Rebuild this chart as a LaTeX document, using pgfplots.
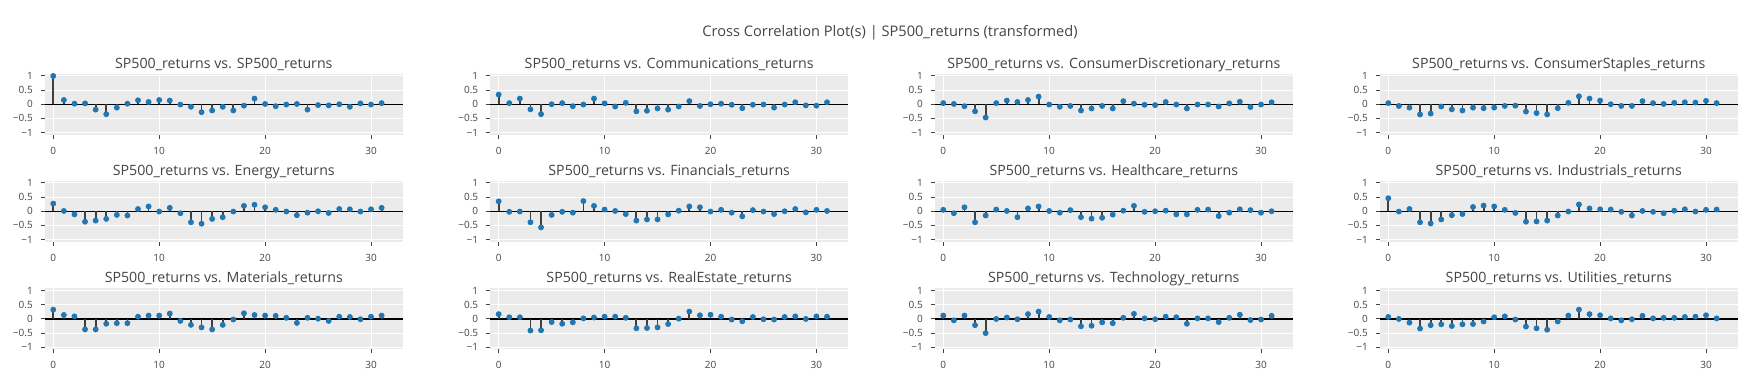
\documentclass[border=0pt]{standalone}
\usepackage{fontspec}
\setmainfont{Open Sans}
\usepackage{pgfplots}
\usepackage{pgfplotstable}
\pgfplotsset{compat=1.18}
\definecolor{bgc}{RGB}{235,235,235}
\definecolor{txtc}{RGB}{68,68,68}
\definecolor{mcol}{RGB}{31,119,180}
\definecolor{stemc}{RGB}{63,63,63}

\pgfplotstableread{
lag sp comm cd cs en fin hc ind mat re tech util
0 1 0.34 0.04 0.04 0.27 0.35 0.05 0.46 0.33 0.17 0.12 0.07
1 0.15 0.04 0.01 -0.06 0.01 -0.02 -0.07 -0.01 0.14 0.06 -0.05 0
2 0.02 0.2 -0.07 -0.12 -0.11 -0.01 0.14 0.08 0.09 0.06 0.12 -0.13
3 0.03 -0.18 -0.25 -0.36 -0.37 -0.39 -0.39 -0.39 -0.37 -0.41 -0.22 -0.34
4 -0.19 -0.35 -0.47 -0.33 -0.33 -0.57 -0.15 -0.43 -0.37 -0.4 -0.5 -0.22
5 -0.35 0 0.04 -0.08 -0.27 -0.13 0.06 -0.29 -0.17 -0.11 0 -0.19
6 -0.12 0.04 0.13 -0.18 -0.13 -0.02 0.01 -0.14 -0.15 -0.17 0.05 -0.25
7 0.02 -0.07 0.08 -0.22 -0.15 -0.05 -0.21 -0.1 -0.15 -0.12 -0.01 -0.19
8 0.14 -0.01 0.15 -0.12 0.08 0.36 0.1 0.15 0.08 0.02 0.17 -0.18
9 0.08 0.2 0.27 -0.14 0.17 0.19 0.17 0.2 0.12 0.05 0.26 -0.09
10 0.15 0.03 -0.01 -0.12 -0.01 0.06 0.01 0.17 0.12 0.08 0.07 0.06
11 0.13 -0.08 -0.09 -0.06 0.12 0.01 -0.05 0.05 0.19 0.08 -0.05 0.09
12 -0.01 0.05 -0.06 -0.05 -0.07 -0.1 0.04 -0.06 -0.07 0.04 -0.02 -0.02
13 -0.09 -0.25 -0.22 -0.26 -0.39 -0.33 -0.21 -0.37 -0.21 -0.33 -0.26 -0.27
14 -0.28 -0.23 -0.15 -0.31 -0.44 -0.29 -0.26 -0.36 -0.3 -0.32 -0.24 -0.33
15 -0.22 -0.15 -0.06 -0.36 -0.27 -0.29 -0.23 -0.33 -0.37 -0.3 -0.12 -0.38
16 -0.09 -0.19 -0.15 -0.14 -0.21 -0.11 -0.12 -0.15 -0.21 -0.18 -0.15 -0.09
17 -0.22 -0.08 0.11 0.05 -0.01 0.02 0.02 -0.01 -0.02 0.01 0.04 0.12
18 -0.05 0.11 0.02 0.28 0.19 0.17 0.19 0.24 0.2 0.26 0.18 0.33
19 0.2 -0.06 -0.02 0.2 0.23 0.14 -0.02 0.1 0.14 0.13 0.02 0.17
20 0.01 0 -0.03 0.13 0.14 -0.01 0 0.07 0.12 0.15 -0.01 0.13
21 -0.07 0.02 0.08 0 0.05 0.05 0.02 0.06 0.11 0.08 0.08 0.02
22 -0.01 -0.02 -0.01 -0.06 -0.01 -0.05 -0.11 -0.02 0.04 -0.02 0.06 -0.05
23 0.01 -0.14 -0.15 -0.06 -0.14 -0.18 -0.11 -0.15 -0.14 -0.08 -0.17 -0.01
24 -0.19 -0.02 -0.01 0.11 -0.05 0.04 0.05 0.01 0.04 0.07 0.02 0.11
25 -0.03 -0.01 -0.01 0.04 0 -0.01 0.06 -0.02 0.01 -0.01 0.02 0.02
26 -0.04 -0.12 -0.08 0.01 -0.06 -0.1 -0.17 -0.07 -0.07 -0.02 -0.11 0.04
27 0 -0.01 0.03 0.05 0.08 0 -0.05 0.02 0.08 0.07 0.04 0.04
28 -0.09 0.07 0.09 0.07 0.07 0.08 0.07 0.07 0.07 0.09 0.15 0.07
29 0.03 -0.04 -0.1 0.06 -0.01 -0.04 0.04 -0.01 -0.01 0 -0.04 0.08
30 -0.01 -0.05 -0.01 0.12 0.07 0.05 -0.05 0.05 0.08 0.09 -0.02 0.13
31 0.04 0.07 0.07 0.04 0.12 0.01 0 0.06 0.12 0.08 0.11 0.02
}\ccfdata

\pgfplotsset{
  ccf/.style={
    scale only axis, width=179pt, height=30.55pt,
    anchor=north west,
    xmin=-0.8, xmax=33, ymin=-1.08, ymax=1.08,
    xtick={0,10,20,30}, xticklabels={0,10,20,30},
    ytick={-1,-0.5,0,0.5,1}, yticklabels={−1,−0.5,0,0.5,1},
    xtick pos=bottom, ytick pos=left,
    axis background/.style={fill=bgc},
    grid=major, major grid style={white, line width=0.5pt},
    axis line style={draw=none},
    tick align=outside, major tick length=2pt,
    tick style={color=txtc, line width=0.5pt},
    ticklabel style={font=\fontsize{5}{6}\selectfont, text=txtc},
    xticklabel style={yshift=-0.5pt},
    yticklabel style={xshift=-0.5pt},
    every axis title/.style={font=\fontsize{7.1}{8}\selectfont, text=txtc, at={(0.5,1)}, anchor=base, yshift=2.8pt},
  }
}
\newcommand\ccfpanel[4]{%
\begin{axis}[ccf, at={(#1,#2)}, title={#4}]
\addplot[black, line width=0.6pt] coordinates {(-0.8,0) (33,0)};
\addplot[ycomb, stemc, line width=0.9pt] table[x=lag, y=#3]{\ccfdata};
\addplot[only marks, mark=*, mark size=1.25pt, mark options={draw=mcol, fill=mcol}] table[x=lag, y=#3]{\ccfdata};
\end{axis}}

\begin{document}
\begin{tikzpicture}
\path[use as bounding box] (0,0) rectangle (876pt,190pt);
\node[font=\fontsize{7.3}{8}\selectfont, text=txtc, anchor=base] at (445pt,171.5pt) {Cross Correlation Plot(s) | SP500\_returns (transformed)};
\ccfpanel{22.4pt}{153.15pt}{sp}{SP500\_returns vs. SP500\_returns}
\ccfpanel{245.1pt}{153.15pt}{comm}{SP500\_returns vs. Communications\_returns}
\ccfpanel{467.4pt}{153.15pt}{cd}{SP500\_returns vs. ConsumerDiscretionary\_returns}
\ccfpanel{689.9pt}{153.15pt}{cs}{SP500\_returns vs. ConsumerStaples\_returns}
\ccfpanel{22.4pt}{99.65pt}{en}{SP500\_returns vs. Energy\_returns}
\ccfpanel{245.1pt}{99.65pt}{fin}{SP500\_returns vs. Financials\_returns}
\ccfpanel{467.4pt}{99.65pt}{hc}{SP500\_returns vs. Healthcare\_returns}
\ccfpanel{689.9pt}{99.65pt}{ind}{SP500\_returns vs. Industrials\_returns}
\ccfpanel{22.4pt}{45.8pt}{mat}{SP500\_returns vs. Materials\_returns}
\ccfpanel{245.1pt}{45.8pt}{re}{SP500\_returns vs. RealEstate\_returns}
\ccfpanel{467.4pt}{45.8pt}{tech}{SP500\_returns vs. Technology\_returns}
\ccfpanel{689.9pt}{45.8pt}{util}{SP500\_returns vs. Utilities\_returns}
\end{tikzpicture}
\end{document}
